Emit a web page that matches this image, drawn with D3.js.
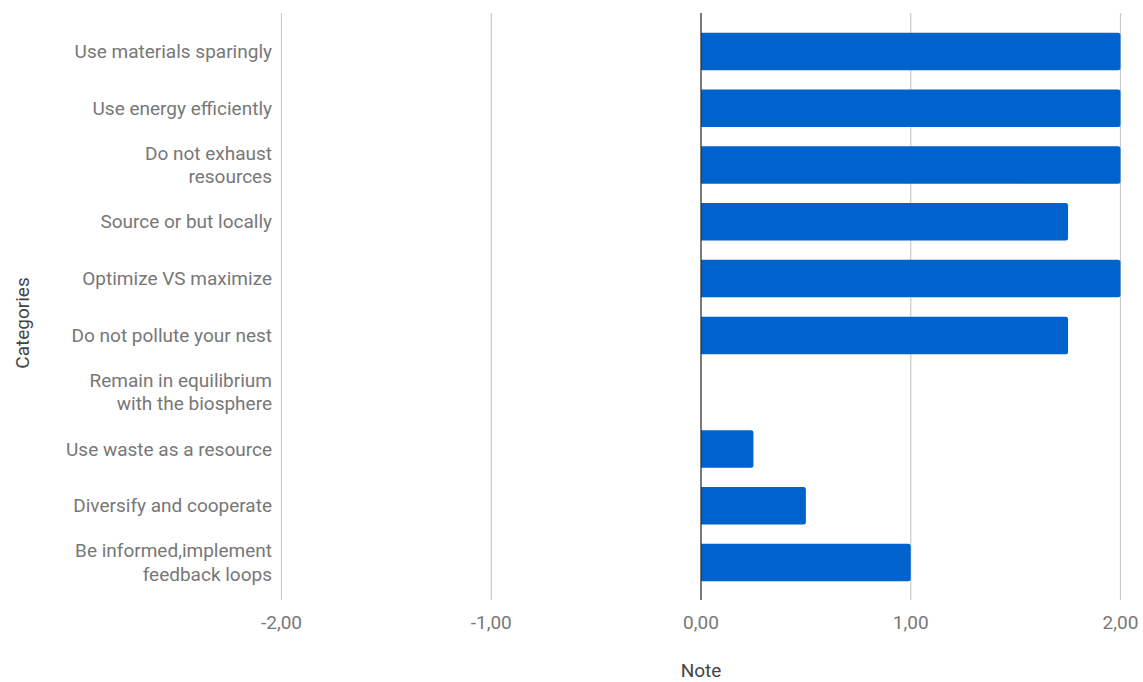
<!DOCTYPE html>
<html><head><meta charset="utf-8">
<script src="https://cdn.jsdelivr.net/npm/d3@7"></script>
<style>body{margin:0;background:#fff}svg{display:block}text{font-family:Roboto,"Noto Sans",sans-serif}</style>
</head><body>
<svg id="c" width="1143" height="682"></svg>
<script>
const categories = [
  ["Use materials sparingly"],
  ["Use energy efficiently"],
  ["Do not exhaust", "resources"],
  ["Source or but locally"],
  ["Optimize VS maximize"],
  ["Do not pollute your nest"],
  ["Remain in equilibrium", "with the biosphere"],
  ["Use waste as a resource"],
  ["Diversify and cooperate"],
  ["Be informed,implement", "feedback loops"]
];
const values = [2, 2, 2, 1.75, 2, 1.75, 0, 0.25, 0.5, 1];
const xTicks = [-2, -1, 0, 1, 2];
const xTickLabels = ["-2,00", "-1,00", "0,00", "1,00", "2,00"];

const svg = d3.select("#c");
const keys = categories.map((c, i) => i);
const x = d3.scaleLinear().domain([-2, 2]).range([281.5, 1120.5]);
const y = d3.scaleBand().domain(keys).range([23, 591]).paddingInner(0.34).paddingOuter(0.17);
const plotTop = 13, plotBottom = 600;
const fs = 19;

// gridlines
svg.append("g").selectAll("line").data(xTicks.filter(d => d !== 0)).join("line")
  .attr("x1", d => x(d)).attr("x2", d => x(d))
  .attr("y1", plotTop).attr("y2", plotBottom)
  .attr("stroke", "#cccccc").attr("stroke-width", 1.2);

// bars
svg.append("g").selectAll("path").data(values).join("path")
  .attr("fill", "#0062cc")
  .attr("d", (v, i) => {
    if (v === 0) return "";
    const x0 = x(0), x1 = x(v), y0 = y(i), h = y.bandwidth(), r = 2.5;
    return `M${x0},${y0} H${x1 - r} Q${x1},${y0} ${x1},${y0 + r} V${y0 + h - r} Q${x1},${y0 + h} ${x1 - r},${y0 + h} H${x0} Z`;
  });

// zero line
svg.append("line").attr("x1", x(0)).attr("x2", x(0)).attr("y1", plotTop).attr("y2", plotBottom)
  .attr("stroke", "#333333").attr("stroke-width", 1.3);

// y labels
const lbl = svg.append("g").selectAll("text").data(categories).join("text")
  .attr("text-anchor", "end").attr("fill", "#777777").attr("font-size", fs)
  .attr("x", 272)
  .attr("y", (c, i) => y(i) + y.bandwidth() / 2);
lbl.each(function(c) {
  const t = d3.select(this);
  const n = c.length, lh = 23.5;
  c.forEach((line, j) => {
    t.append("tspan").attr("x", 272)
      .attr("dy", j === 0 ? (-(n - 1) * lh / 2) : lh)
      .attr("dominant-baseline", "central")
      .text(line);
  });
});

// x tick labels
svg.append("g").selectAll("text").data(xTicks).join("text")
  .attr("x", d => x(d)).attr("y", 622).attr("dominant-baseline", "central")
  .attr("text-anchor", "middle").attr("fill", "#777777").attr("font-size", fs)
  .text((d, i) => xTickLabels[i]);

// axis titles
svg.append("text").attr("x", x(0)).attr("y", 670.5).attr("dominant-baseline", "central")
  .attr("text-anchor", "middle").attr("fill", "#444444").attr("font-size", fs).text("Note");
svg.append("text").attr("transform", "translate(22,323) rotate(-90)").attr("dominant-baseline", "central")
  .attr("text-anchor", "middle").attr("fill", "#444444").attr("font-size", fs).text("Categories");
</script>
</body></html>
